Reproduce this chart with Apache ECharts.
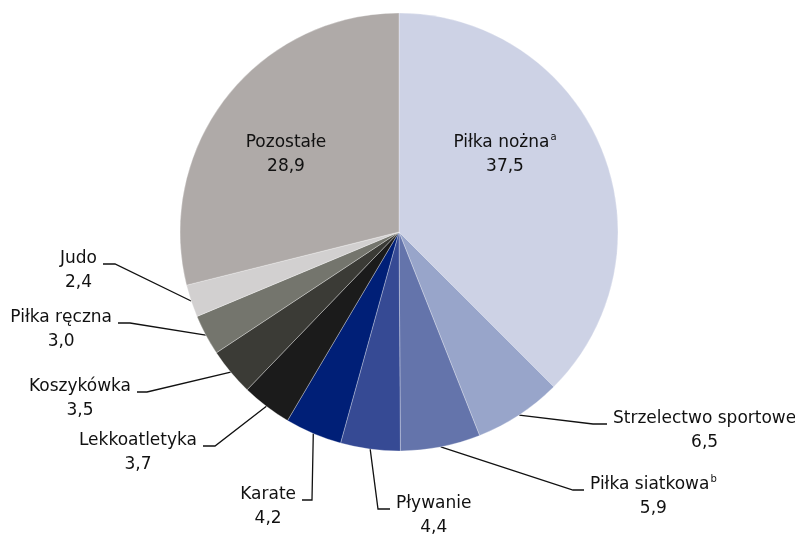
<!DOCTYPE html>
<html>
<head>
<meta charset="utf-8">
<script src="https://cdn.jsdelivr.net/npm/echarts@6/dist/echarts.min.js"></script>
<style>
  html, body { margin: 0; padding: 0; background: #fff; }
  #chart { width: 795px; height: 536px; }
</style>
</head>
<body>
<div id="chart"></div>
<script>
// dane
const names = ['Piłka nożna', 'Strzelectwo sportowe', 'Piłka siatkowa', 'Pływanie', 'Karate',
  'Lekkoatletyka', 'Koszykówka', 'Piłka ręczna', 'Judo', 'Pozostałe'];
const notes = ['a', '', 'b', '', '', '', '', '', '', ''];
const values = [37.5, 6.5, 5.9, 4.4, 4.2, 3.7, 3.5, 3.0, 2.4, 28.9];
const colors = ['#cdd2e5', '#98a5ca', '#6474ab', '#364a94', '#001f77',
  '#1b1b1b', '#3b3b36', '#74756d', '#d2d0d0', '#afaaa8'];

// rozmieszczenie etykiet: [x, y] = etykieta w środku wycinka,
// inaczej [zgięcie x, zgięcie y, koniec x, koniec y] linii odniesienia
const labelPlace = [
  [505, 143],
  [593, 424, 607, 424],
  [573, 490, 584, 490],
  [378, 509, 390, 509],
  [312, 500, 302, 500],
  [215, 446, 203, 446],
  [147, 392, 137, 392],
  [130, 323, 118, 323],
  [115, 264, 103, 264],
  [286, 143]
];

const FONT = 'DejaVu Sans';
const FS = 17;
const LH = 24;

const chart = echarts.init(document.getElementById('chart'));

const fmt = v => v.toFixed(1).replace('.', ',');

chart.setOption({
  animation: false,
  textStyle: { fontFamily: FONT },
  series: [{
    type: 'pie',
    center: [399, 232],
    radius: 219,
    startAngle: 90,
    clockwise: true,
    avoidLabelOverlap: false,
    itemStyle: { borderColor: 'rgba(255,255,255,0.5)', borderWidth: 0.6 },
    label: {
      show: true,
      position: 'outside',
      color: '#111',
      formatter: p => {
        const i = p.dataIndex;
        const sup = notes[i] ? '{s|' + notes[i] + '}' : '';
        return '{n|' + names[i] + '}' + sup + '\n{v|' + fmt(values[i]) + '}';
      },
      rich: {
        n: { fontSize: FS, lineHeight: LH, align: 'center', color: '#111', fontFamily: FONT },
        v: { fontSize: FS, lineHeight: LH, align: 'center', color: '#111', fontFamily: FONT },
        s: { fontSize: 10, lineHeight: LH, align: 'center', verticalAlign: 'top', padding: [1, 0, 0, 1], color: '#111', fontFamily: FONT }
      }
    },
    labelLine: { show: true, lineStyle: { color: '#111', width: 1.3 } },
    labelLayout: params => {
      const pl = labelPlace[params.dataIndex];
      if (pl.length === 2) {
        return { x: pl[0], y: pl[1] - LH / 2, align: 'center', verticalAlign: 'top' };
      }
      const start = params.labelLinePoints ? params.labelLinePoints[0] : [pl[0], pl[1]];
      const right = pl[2] > pl[0];
      return {
        x: right ? pl[2] + 6 : pl[2] - 6,
        y: pl[3] - 5 - LH / 2,
        align: right ? 'left' : 'right',
        verticalAlign: 'top',
        labelLinePoints: [start, [pl[0], pl[1]], [pl[2], pl[3]]]
      };
    },
    data: names.map((n, i) => ({
      name: n,
      value: values[i],
      itemStyle: { color: colors[i] },
      labelLine: { show: labelPlace[i].length > 2 }
    }))
  }]
});
</script>
</body>
</html>
